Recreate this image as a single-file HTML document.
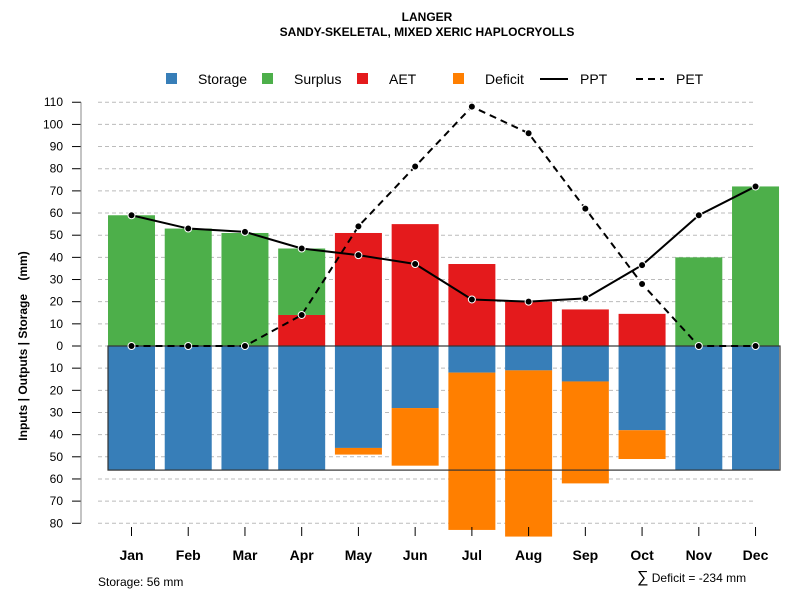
<!DOCTYPE html>
<html><head><meta charset="utf-8"><style>body{margin:0;background:#fff}svg{font-family:"Liberation Sans",Arial,sans-serif}</style></head>
<body>
<svg id="chart" width="800" height="600" xmlns="http://www.w3.org/2000/svg">
<text x="427" y="21" text-anchor="middle" font-size="12" font-weight="bold">LANGER</text>
<text x="427" y="36" text-anchor="middle" font-size="12" font-weight="bold">SANDY-SKELETAL, MIXED XERIC HAPLOCRYOLLS</text>
<g font-size="14">
<g><rect x="166" y="73" width="11" height="11" fill="#377eb8"/><text x="198" y="84">Storage</text></g>
<g><rect x="262" y="73" width="11" height="11" fill="#4daf4a"/><text x="294" y="84">Surplus</text></g>
<g><rect x="357" y="73" width="11" height="11" fill="#e41a1c"/><text x="389" y="84">AET</text></g>
<g><rect x="453" y="73" width="11" height="11" fill="#ff7f00"/><text x="485" y="84">Deficit</text></g>
<g><line x1="540" y1="79" x2="568" y2="79" stroke="#000" stroke-width="2"/><text x="580" y="84">PPT</text></g>
<g><line x1="636" y1="79" x2="664" y2="79" stroke="#000" stroke-width="2" stroke-dasharray="7,5"/><text x="676" y="84">PET</text></g>
</g>
<text transform="translate(27,346) rotate(-90)" text-anchor="middle" font-size="12" font-weight="bold">Inputs | Outputs | Storage&#160;&#160;&#160;&#160;(mm)</text>
<g id="grid"></g><g id="bars"></g><g id="axes"></g><g id="lines"></g>
<text x="98" y="586" font-size="12">Storage: 56 mm</text>
<text x="637" y="582" font-size="12"><tspan font-size="16">∑</tspan> Deficit = -234 mm</text>
</svg>
<script>
const months=["Jan","Feb","Mar","Apr","May","Jun","Jul","Aug","Sep","Oct","Nov","Dec"];
const storage=[56,56,56,56,46,28,12,11,16,38,56,56];
const deficit=[0,0,0,0,3,26,71,75,46,13,0,0];
const aet=[0,0,0,14,51,55,37,20,16.5,14.5,0,0];
const surplus=[59,53,51,30,0,0,0,0,0,0,40,72];
const ppt=[59,53,51.5,44,41,37,21,20,21.5,36.5,59,72];
const pet=[0,0,0,14,54,81,108,96,62,28,0,0];
const yTicks=[110,100,90,80,70,60,50,40,30,20,10,0,-10,-20,-30,-40,-50,-60,-70,-80];
const capacity=56;
const NS="http://www.w3.org/2000/svg";
const X=i=>131.5+i*56.73, Y=v=>346-v*2.216, BW=47;
function mk(t,a,p){const e=document.createElementNS(NS,t);for(const k in a)e.setAttribute(k,a[k]);p.appendChild(e);return e;}
const grid=document.getElementById('grid'),bars=document.getElementById('bars'),axes=document.getElementById('axes'),lines=document.getElementById('lines');
yTicks.forEach(t=>{
 const l=mk('line',{x1:98,x2:755,y1:Y(t),y2:Y(t),stroke:'#bbb','stroke-dasharray':'4,3'},grid);
 
 const tk=mk('line',{x1:72,x2:81,y1:Y(t),y2:Y(t),stroke:'#000'},axes);
 
 const tx=mk('text',{x:63,y:Y(t)+4,'text-anchor':'end','font-size':12},axes);tx.textContent=Math.abs(t);
 
});
const ax=mk('line',{x1:81,x2:81,y1:Y(110),y2:Y(-80),stroke:'#888'},axes);

function bar(i,v0,v1,c,n){const y0=Y(v0),y1=Y(v1);const r=mk('rect',{x:X(i)-BW/2,y:Math.min(y0,y1),width:BW,height:Math.abs(y1-y0),fill:c},bars);
 }
months.forEach((m,i)=>{
 if(aet[i])bar(i,0,aet[i],'#e41a1c','bar-aet-'+m.toLowerCase());
 if(surplus[i])bar(i,aet[i],aet[i]+surplus[i],'#4daf4a','bar-surplus-'+m.toLowerCase());
 bar(i,0,-storage[i],'#377eb8','bar-storage-'+m.toLowerCase());
 if(deficit[i])bar(i,-storage[i],-storage[i]-deficit[i],'#ff7f00','bar-deficit-'+m.toLowerCase());
 const tk=mk('line',{x1:X(i),x2:X(i),y1:527,y2:536,stroke:'#000'},axes);
 
 const tx=mk('text',{x:X(i),y:560,'text-anchor':'middle','font-size':14,'font-weight':'bold'},axes);tx.textContent=m;
 
});
const box=mk('rect',{x:108,y:Y(0),width:672,height:Y(-capacity)-Y(0),fill:'none',stroke:'#333','stroke-width':1.2},bars);

function series(vals,dash,n){
 const p=mk('polyline',{points:vals.map((v,i)=>X(i)+','+Y(v)).join(' '),fill:'none',stroke:'#000','stroke-width':2,'stroke-dasharray':dash},lines);
 
 vals.forEach((v,i)=>{const c=mk('circle',{cx:X(i),cy:Y(v),r:3.5,fill:'#000',stroke:'#fff','stroke-width':1},lines);
  });
}
series(pet,'7,5','pet');
series(ppt,'none','ppt');
</script>
</body></html>
